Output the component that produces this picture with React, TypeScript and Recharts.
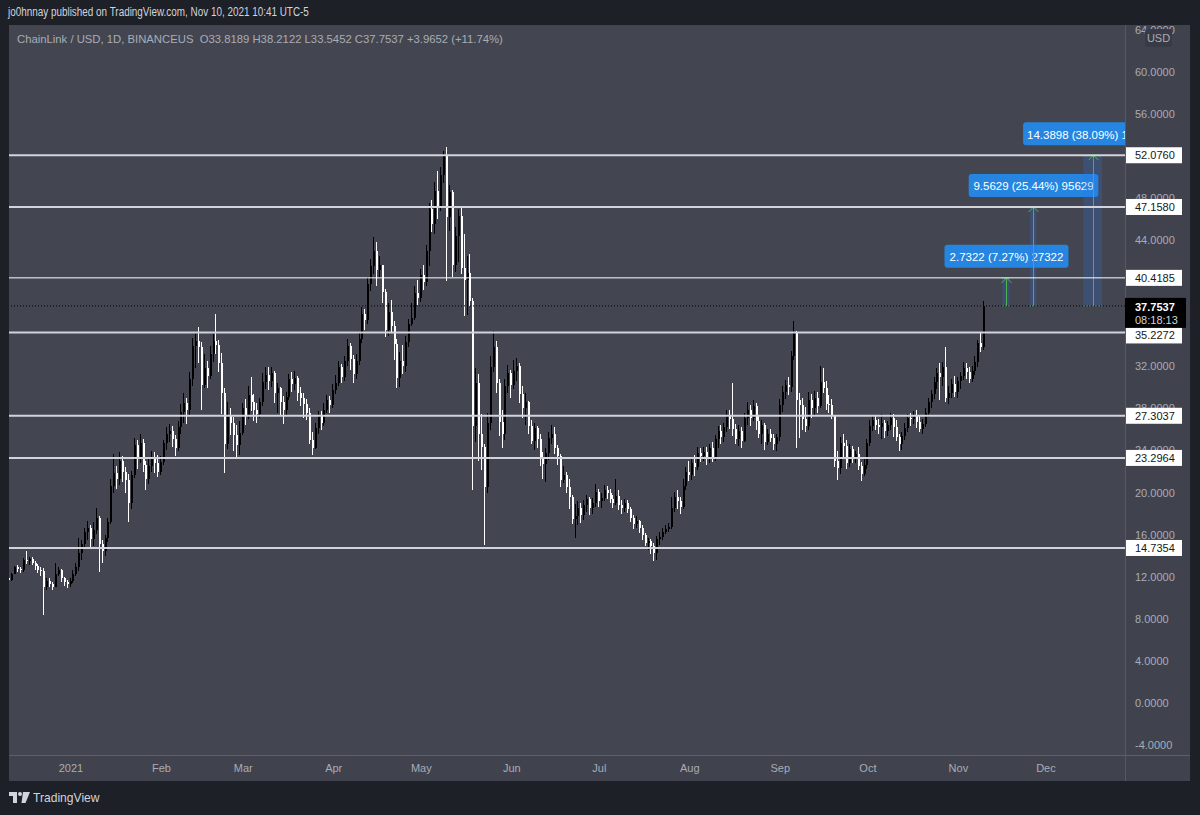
import React from 'react'
import { ComposedChart, Bar, XAxis, YAxis, ReferenceLine, ReferenceArea } from 'recharts'

const FONT = '"Liberation Sans", Arial, sans-serif'
const OUTER_BG = '#1e2027'
const PANEL_BG = '#434651'
const AXIS_BG = '#40434e'
const AXIS_TEXT = '#a9acb5'
const GREEN = '#4caf50'
const BLUE = '#2585e0'
const PLOT = { left: 9, top: 25, right: 1125, bottom: 755 }
const CHART_MARGIN = { top: 25, left: 9, right: 10, bottom: 34 }
const X_DOMAIN: [number, number] = [-21.24, 361.08]
const Y_DOMAIN: [number, number] = [-4.95, 64.46]

// days counted from Jan 1, 2021; first candle is Dec 11, 2020
const FIRST_DAY = -21
const FIRST_OPEN = 11.9

// daily closes, Dec 11 2020 .. Nov 10 2021
const CLOSES = [
  // Dec
  11.7, 12.3, 12.9, 12.7, 12.6, 13.6, 13.5, 13.7, 13.3, 13.0, 12.6, 12.5, 11.0, 11.6, 11.3, 11.0, 12.3, 12.6, 11.9, 11.5, 11.3,
  // Jan
  11.6, 12.3, 12.9, 14.3, 15.1, 16.3, 16.6, 15.6, 16.4, 17.6, 15.1, 14.4, 15.7, 17.2, 20.6, 21.9, 21.3, 23.0, 22.0, 21.2, 19.0,
  21.7, 24.5, 23.4, 24.7, 22.6, 21.3, 22.5, 23.4, 22.8, 22.0,
  // Feb
  22.9, 24.7, 25.6, 25.9, 25.1, 24.2, 26.2, 27.7, 28.5, 27.9, 30.8, 33.9, 34.4, 33.8, 30.2, 31.8, 31.1, 33.2, 34.4, 34.0, 32.3,
  29.5, 24.6, 27.4, 26.6, 25.5, 24.5, 25.7,
  // Mar
  28.0, 27.3, 29.3, 28.6, 27.9, 27.5, 28.6, 30.5, 31.2, 30.6, 31.4, 29.5, 29.9, 28.6, 27.9, 29.1, 30.8, 30.3, 30.9, 29.5, 29.0,
  28.4, 27.6, 25.0, 24.2, 26.1, 27.3, 26.6, 27.9, 28.8, 28.3,
  // Apr
  29.8, 30.4, 31.9, 31.0, 32.5, 33.9, 32.7, 31.3, 32.5, 34.6, 37.0, 36.4, 39.8, 41.5, 43.0, 41.2, 41.6, 39.1, 35.5, 37.2, 35.8,
  34.1, 30.9, 32.5, 32.0, 34.3, 36.0, 36.6, 39.0, 38.5,
  // May
  40.7, 40.0, 43.0, 47.0, 45.5, 48.7, 47.2, 50.2, 52.0, 46.2, 48.6, 41.6, 44.4, 46.3, 41.4, 40.2, 40.9, 38.2, 26.3, 30.4, 25.6,
  24.3, 20.5, 26.6, 31.9, 33.8, 30.4, 26.7, 25.6, 30.1, 31.4,
  // Jun
  30.2, 31.6, 32.0, 29.4, 28.0, 28.6, 26.3, 24.9, 26.1, 25.1, 23.4, 22.7, 23.8, 25.2, 25.6, 24.2, 23.5, 21.2, 21.7, 20.5, 19.6,
  17.5, 17.8, 18.5, 17.9, 18.8, 19.4, 18.5, 19.0, 20.1,
  // Jul
  19.2, 19.5, 20.2, 20.0, 19.4, 19.0, 19.7, 18.8, 18.5, 19.0, 18.4, 17.6, 17.0, 17.3, 16.6, 16.0, 15.2, 15.4, 14.9, 14.3, 15.6,
  15.8, 16.3, 16.5, 16.7, 18.5, 19.6, 19.2, 18.6, 20.6, 22.0,
  // Aug
  21.7, 22.8, 22.4, 23.8, 23.5, 23.9, 23.2, 24.2, 23.4, 25.1, 25.9, 25.3, 26.2, 27.4, 27.0, 26.0, 25.1, 25.9, 24.9, 27.1, 27.9,
  27.1, 28.2, 26.8, 25.6, 26.4, 24.8, 25.6, 25.2, 24.6, 25.3,
  // Sep
  28.3, 29.6, 30.2, 30.0, 33.0, 35.2, 28.8, 28.3, 27.0, 26.3, 28.8, 28.0, 29.0, 28.2, 30.5, 29.9, 28.4, 28.3, 27.4, 23.0, 22.3,
  24.7, 24.4, 22.8, 24.1, 23.3, 23.7, 22.5, 21.8, 22.6,
  // Oct
  24.7, 26.3, 26.9, 26.4, 26.2, 26.6, 25.9, 26.4, 27.1, 26.2, 25.3, 24.6, 25.4, 26.1, 27.1, 27.0, 27.4, 26.7, 26.0, 26.5, 27.6,
  28.6, 29.4, 30.5, 31.4, 31.0, 31.9, 29.0, 29.5, 30.3, 29.6,
  // Nov
  30.6, 31.1, 31.8, 31.5, 30.8, 31.6, 32.4, 34.2, 33.8189, 37.7537,
]

const HIGHS = [
  12.1, 12.4, 13.0, 13.1, 12.9, 13.8, 14.4, 13.9, 13.9, 13.5, 13.2, 12.9, 12.8, 11.9, 11.9, 11.5, 13.3, 12.9, 12.7, 12.0, 11.7,
  11.9, 12.6, 13.3, 15.7, 15.5, 16.6, 17.3, 16.9, 17.2, 18.5, 17.8, 15.5, 16.0, 17.6, 21.3, 23.7, 22.5, 23.9, 23.5, 22.4, 21.8,
  22.1, 25.2, 25.0, 25.6, 25.1, 23.0, 23.2, 24.0, 23.9, 23.6,
  23.5, 25.0, 26.2, 26.5, 26.3, 25.5, 26.8, 28.4, 29.5, 29.0, 31.5, 34.7, 35.2, 35.7, 34.3, 33.2, 32.5, 33.9, 35.1, 37.0, 34.5,
  33.3, 29.9, 28.6, 28.0, 27.2, 26.4, 26.8,
  28.5, 28.9, 30.1, 31.0, 29.4, 28.5, 29.0, 31.4, 31.9, 31.9, 31.9, 31.6, 30.4, 30.0, 29.2, 29.6, 31.3, 31.5, 31.6, 31.1, 30.0,
  29.5, 28.9, 28.0, 25.8, 26.6, 27.8, 27.8, 28.5, 29.3, 29.2,
  30.3, 31.2, 32.5, 32.2, 33.0, 34.6, 34.2, 33.1, 33.2, 35.2, 37.6, 37.5, 40.5, 42.2, 44.3, 43.8, 42.5, 41.2, 39.4, 38.0, 38.3,
  36.3, 34.6, 33.4, 34.0, 34.9, 36.5, 38.0, 39.6, 40.2,
  41.3, 41.6, 43.5, 47.5, 47.8, 49.5, 50.6, 51.0, 52.5, 52.9, 49.2, 48.8, 45.3, 47.0, 47.2, 44.6, 42.5, 42.7, 38.5, 31.8, 31.3,
  27.5, 24.6, 27.6, 33.0, 35.4, 34.4, 30.8, 27.9, 30.8, 32.1,
  31.7, 32.6, 32.8, 32.3, 30.1, 29.5, 28.7, 26.9, 26.6, 26.3, 25.6, 23.9, 24.2, 25.8, 26.4, 26.2, 24.5, 23.7, 22.5, 22.0, 21.3,
  19.8, 18.9, 19.2, 19.0, 19.3, 19.8, 19.6, 19.5, 20.8,
  20.3, 20.0, 20.7, 20.6, 20.3, 19.8, 21.3, 20.2, 19.3, 19.4, 19.3, 18.6, 17.9, 17.8, 17.4, 16.9, 16.2, 15.7, 15.6, 15.2, 15.9,
  16.3, 16.6, 16.9, 17.1, 19.6, 20.1, 20.2, 19.6, 21.3, 22.4,
  23.0, 23.3, 23.6, 24.3, 24.2, 24.3, 24.3, 24.6, 24.8, 25.5, 26.3, 26.4, 26.6, 27.9, 27.9, 30.4, 26.5, 26.4, 26.2, 27.6, 28.6,
  28.3, 28.8, 28.5, 27.4, 26.9, 26.6, 26.0, 26.0, 25.6, 25.6,
  28.9, 30.1, 30.7, 31.0, 33.5, 36.3, 35.4, 29.5, 29.0, 28.1, 29.6, 29.4, 29.7, 29.6, 32.0, 31.8, 30.6, 29.3, 28.9, 27.4, 24.0,
  25.3, 25.6, 25.0, 24.6, 24.4, 24.0, 24.3, 22.9, 23.4,
  25.1, 26.9, 27.4, 27.4, 27.0, 27.5, 26.9, 26.8, 27.6, 27.5, 26.9, 25.6, 25.8, 26.6, 27.5, 27.6, 27.8, 27.9, 27.3, 27.0, 28.0,
  29.0, 29.8, 31.0, 31.8, 32.3, 32.4, 33.8, 30.1, 30.8, 31.1,
  31.0, 31.5, 32.4, 32.3, 31.9, 32.0, 33.0, 34.5, 35.3, 38.2122,
]

const LOWS = [
  11.4, 11.6, 12.2, 12.4, 12.3, 12.5, 13.2, 13.1, 13.1, 12.6, 12.3, 12.0, 8.3, 10.8, 11.0, 10.7, 11.0, 12.0, 11.5, 11.1, 10.9,
  11.0, 11.4, 12.1, 12.6, 13.6, 14.6, 15.5, 14.8, 14.9, 16.0, 12.5, 13.3, 14.0, 15.3, 17.0, 20.0, 20.3, 20.8, 21.0, 19.9, 17.2,
  18.5, 21.4, 22.2, 22.8, 22.0, 20.2, 20.8, 22.0, 21.9, 21.5,
  21.7, 22.6, 24.0, 24.8, 24.3, 23.5, 23.9, 25.5, 26.6, 26.5, 27.4, 30.1, 31.9, 32.3, 27.8, 30.0, 29.9, 30.8, 32.4, 33.2, 31.5,
  27.5, 21.8, 24.1, 25.4, 24.0, 23.2, 23.6,
  25.5, 26.4, 27.0, 27.8, 26.8, 26.6, 27.1, 28.3, 29.8, 29.7, 30.0, 28.6, 27.5, 27.2, 26.5, 27.3, 28.8, 29.6, 29.8, 28.7, 28.2,
  27.1, 26.9, 24.6, 23.6, 24.1, 25.6, 26.0, 26.3, 27.6, 27.6,
  28.0, 29.4, 30.1, 30.4, 30.6, 32.0, 31.6, 30.4, 30.8, 32.2, 34.2, 35.5, 36.0, 39.2, 40.8, 39.6, 40.4, 38.0, 34.8, 34.9, 35.2,
  32.6, 29.9, 30.1, 31.2, 31.5, 33.8, 35.8, 36.4, 37.8,
  38.2, 39.2, 39.6, 41.5, 44.8, 44.6, 46.0, 46.8, 49.5, 40.2, 44.8, 40.5, 41.0, 42.0, 40.8, 36.8, 36.9, 37.8, 20.2, 24.8, 23.0,
  22.2, 15.0, 20.0, 26.0, 31.5, 29.5, 25.4, 24.3, 25.0, 29.4,
  29.0, 29.8, 30.6, 28.5, 27.1, 26.5, 25.6, 24.6, 24.0, 24.2, 22.6, 21.3, 21.0, 23.1, 24.6, 23.6, 22.6, 20.6, 20.9, 20.0, 18.4,
  17.0, 15.7, 16.9, 17.1, 17.4, 18.2, 17.9, 18.0, 18.6,
  18.6, 18.6, 19.2, 19.4, 19.0, 18.6, 18.8, 18.3, 18.0, 18.2, 18.1, 17.2, 16.6, 16.7, 16.2, 15.5, 15.0, 14.6, 14.2, 13.5, 13.6,
  15.1, 15.5, 16.0, 16.2, 16.6, 18.2, 18.4, 18.0, 18.4, 20.2,
  21.1, 21.2, 21.6, 22.1, 22.9, 23.0, 22.6, 22.8, 22.9, 23.0, 24.2, 24.6, 24.8, 25.8, 26.1, 25.4, 24.6, 24.4, 24.2, 24.8, 26.4,
  26.3, 26.8, 25.9, 25.2, 24.6, 24.0, 24.5, 24.8, 24.1, 24.0,
  24.9, 27.6, 28.9, 29.3, 29.6, 32.6, 24.3, 25.2, 26.0, 25.7, 26.0, 27.1, 27.3, 27.6, 28.0, 29.4, 27.8, 27.6, 27.0, 22.5, 21.2,
  21.8, 23.2, 22.2, 22.4, 22.8, 22.9, 22.1, 21.1, 21.6,
  22.2, 24.4, 25.9, 26.0, 25.6, 25.1, 25.2, 25.4, 26.0, 25.3, 24.9, 24.0, 24.1, 25.0, 25.8, 26.4, 26.6, 26.2, 25.8, 25.6, 26.2,
  27.2, 28.1, 28.9, 29.8, 28.8, 30.1, 28.6, 28.4, 29.0, 29.1,
  29.0, 29.9, 30.7, 30.8, 30.4, 30.5, 31.2, 31.9, 33.4, 33.5452,
]

// first day of each month (days from Jan 1, 2021) and its axis label
const MONTH_TICKS = [0, 31, 59, 90, 120, 151, 181, 212, 243, 273, 304, 334]
const MONTH_LABELS = ['2021', 'Feb', 'Mar', 'Apr', 'May', 'Jun', 'Jul', 'Aug', 'Sep', 'Oct', 'Nov', 'Dec']
const PRICE_TICKS = [-4, 0, 4, 8, 12, 16, 20, 24, 28, 32, 36, 40, 44, 48, 52, 56, 60, 64]

const LEVELS = [52.076, 47.158, 40.4185, 35.2272, 27.3037, 23.2964, 14.7354]
const LAST_PRICE = 37.7537
const LAST_TIMER = '08:18:13'

// price range measurements drawn from the last close up to a level
const MEASURE_FROM = [319.1, 328.5, 346.8]
const MEASURE_TO = [321.5, 330.7, 353.2]
const MEASURE_TARGET = [40.4185, 47.158, 52.076]
const MEASURE_TEXT = ['2.7322 (7.27%) 27322', '9.5629 (25.44%) 95629', '14.3898 (38.09%) 143898']

const HEADER_SYMBOL = 'ChainLink / USD, 1D, BINANCEUS'
const HEADER_OHLC = 'O33.8189 H38.2122 L33.5452 C37.7537 +3.9652 (+11.74%)'
const PUBLISHED = 'jo0hnnay published on TradingView.com, Nov 10, 2021 10:41 UTC-5'

const CANDLES = CLOSES.map((close, i) => {
  const open = i === 0 ? FIRST_OPEN : CLOSES[i - 1]
  const high = Math.max(HIGHS[i], open, close)
  const low = Math.min(LOWS[i], open, close)
  return { day: FIRST_DAY + i, open, close, high, low, range: [low, high] }
})

const Candle = (props: any) => {
  const { x, y, width, height, payload } = props
  if (payload == null) return null
  const top = Math.min(y, y + height)
  const h = Math.abs(height)
  const { open, close, high, low } = payload
  const span = high - low
  const py = (v: number) => (span > 0 ? top + ((high - v) / span) * h : top)
  const cx = Math.round(x + width / 2)
  const color = close >= open ? '#000000' : '#ffffff'
  const bodyTop = Math.round(py(Math.max(open, close)))
  const bodyBottom = Math.round(py(Math.min(open, close)))
  return (
    <g>
      <rect x={cx - 1} y={Math.round(top)} width={1} height={Math.max(1, Math.round(h))} fill={color} />
      <rect x={cx - 1} y={bodyTop} width={2} height={Math.max(1, bodyBottom - bodyTop)} fill={color} />
    </g>
  )
}

// price tags on the axis; the one right under the last-price tag is pushed down like TradingView does
const levelTag = (text: string, shift: number) =>
  function LevelTag(props: any) {
    const vb = props.viewBox
    if (!vb) return null
    const left = vb.x + vb.width + 1
    const cy = vb.y + shift
    return (
      <g>
        <rect x={left} y={cy - 8} width={56} height={16} fill="#ffffff" />
        <text x={left + 9} y={cy} dominantBaseline="central" fontSize={11} fill="#131722" fontFamily={FONT}>
          {text}
        </text>
      </g>
    )
  }

const lastTag = (props: any) => {
  const vb = props.viewBox
  if (!vb) return null
  const left = vb.x + vb.width
  return (
    <g>
      <rect x={left} y={vb.y - 8} width={61} height={30} fill="#000000" />
      <text x={left + 10} y={vb.y + 1} dominantBaseline="central" fontSize={11} fontWeight="bold" fill="#ffffff" fontFamily={FONT}>
        {LAST_PRICE.toFixed(4)}
      </text>
      <text x={left + 10} y={vb.y + 14} dominantBaseline="central" fontSize={11} fill="#d1d4dc" fontFamily={FONT}>
        {LAST_TIMER}
      </text>
    </g>
  )
}

const measureShape = (text: string, idx: number) =>
  function MeasureShape(props: any) {
    const { x, y, width, height } = props
    const top = Math.min(y, y + height)
    const bottom = Math.max(y, y + height)
    const cx = Math.round(x + width / 2) + 0.5
    const boxW = text.length * 5.6 + 12
    const boxH = 23
    const boxY = top - 10 - boxH
    const clipId = `measure-clip-${idx}`
    return (
      <g>
        <defs>
          <clipPath id={clipId}>
            <rect x={PLOT.left} y={PLOT.top} width={PLOT.right - PLOT.left} height={PLOT.bottom - PLOT.top} />
          </clipPath>
        </defs>
        <g clipPath={`url(#${clipId})`}>
          <rect x={x} y={top} width={width} height={bottom - top} fill="rgba(41,120,230,0.22)" />
          <line x1={x} x2={x + width} y1={bottom} y2={bottom} stroke={GREEN} strokeDasharray="1 1" />
          <line x1={x} x2={x + width} y1={top + 0.5} y2={top + 0.5} stroke={GREEN} strokeDasharray="1 1" />
          <line x1={cx} x2={cx} y1={bottom} y2={top} stroke={GREEN} />
          <polyline points={`${cx - 5},${top + 5} ${cx},${top} ${cx + 5},${top + 5}`} fill="none" stroke={GREEN} />
          <rect x={cx - boxW / 2} y={boxY} width={boxW} height={boxH} rx={3} fill={BLUE} />
          <text x={cx} y={boxY + boxH / 2 + 1} textAnchor="middle" dominantBaseline="central" fontSize={11.5} fill="#ffffff" fontFamily={FONT}>
            {text}
          </text>
        </g>
      </g>
    )
  }

export default function App(): React.JSX.Element {
  return (
    <div
      style={{
        position: 'absolute',
        left: 0,
        top: 0,
        width: 1200,
        height: 815,
        background: OUTER_BG,
        overflow: 'hidden',
        fontFamily: FONT,
      }}
    >
      {/* chart panel and axis panels */}
      <div style={{ position: 'absolute', left: 9, top: 25, width: 1181, height: 756, background: PANEL_BG }} />
      <div style={{ position: 'absolute', left: 1126, top: 25, width: 64, height: 756, background: AXIS_BG }} />
      <div style={{ position: 'absolute', left: 9, top: 756, width: 1181, height: 25, background: AXIS_BG }} />
      <div style={{ position: 'absolute', left: 1125, top: 25, width: 1, height: 756, background: '#565964' }} />
      <div style={{ position: 'absolute', left: 9, top: 755, width: 1181, height: 1, background: '#5d606b' }} />

      {/* candles, axes and measurements */}
      <div style={{ position: 'absolute', left: 0, top: 0 }}>
        <ComposedChart width={1200} height={815} data={CANDLES} margin={CHART_MARGIN}>
          <XAxis
            dataKey="day"
            type="number"
            domain={X_DOMAIN}
            allowDataOverflow
            ticks={MONTH_TICKS}
            interval={0}
            tickFormatter={(v: number) => MONTH_LABELS[MONTH_TICKS.indexOf(v)] ?? ''}
            axisLine={false}
            tickLine={false}
            tickSize={0}
            tickMargin={9}
            height={26}
            tick={{ fill: AXIS_TEXT, fontSize: 11, fontFamily: FONT }}
          />
          <YAxis
            orientation="right"
            type="number"
            domain={Y_DOMAIN}
            allowDataOverflow
            ticks={PRICE_TICKS}
            interval={0}
            tickFormatter={(v: number) => v.toFixed(4)}
            axisLine={false}
            tickLine={false}
            tickSize={0}
            tickMargin={10}
            width={65}
            tick={{ fill: AXIS_TEXT, fontSize: 11, fontFamily: FONT }}
          />
          {MEASURE_TEXT.map((text, i) => (
            <ReferenceArea
              key={text}
              x1={MEASURE_FROM[i]}
              x2={MEASURE_TO[i]}
              y1={LAST_PRICE}
              y2={MEASURE_TARGET[i]}
              shape={measureShape(text, i)}
            />
          ))}
          <Bar dataKey="range" barSize={2} shape={Candle} isAnimationActive={false} />
        </ComposedChart>
      </div>

      {/* horizontal levels and their price tags, drawn on top of the axis labels */}
      <div style={{ position: 'absolute', left: 0, top: 0, pointerEvents: 'none' }}>
        <ComposedChart width={1200} height={815} data={CANDLES} margin={CHART_MARGIN}>
          <XAxis dataKey="day" type="number" domain={X_DOMAIN} allowDataOverflow tick={false} axisLine={false} tickLine={false} height={26} />
          <YAxis
            orientation="right"
            type="number"
            domain={Y_DOMAIN}
            allowDataOverflow
            tick={false}
            axisLine={false}
            tickLine={false}
            width={65}
          />
          {LEVELS.map((v) => (
            <ReferenceLine
              key={v}
              y={v}
              stroke={v === 40.4185 ? '#ffffff' : '#d1d4dc'}
              strokeWidth={v === 40.4185 ? 1 : 2}
              label={levelTag(v.toFixed(4), v === 35.2272 ? 3 : 0)}
            />
          ))}
          <ReferenceLine y={LAST_PRICE} stroke="#000000" strokeDasharray="1 2" label={lastTag} />
        </ComposedChart>
      </div>

      {/* top bar */}
      <div style={{ position: 'absolute', left: 0, top: 0, width: 1200, height: 25, background: OUTER_BG }} />
      <div
        style={{
          position: 'absolute',
          left: 8,
          top: 5,
          fontSize: 12,
          color: '#d1d4dc',
          whiteSpace: 'nowrap',
          transform: 'scaleX(0.825)',
          transformOrigin: 'left top',
        }}
      >
        {PUBLISHED}
      </div>
      <div style={{ position: 'absolute', left: 17, top: 33, fontSize: 11.3, color: AXIS_TEXT, whiteSpace: 'pre' }}>
        {HEADER_SYMBOL + '  ' + HEADER_OHLC}
      </div>
      <div
        style={{
          position: 'absolute',
          left: 1145,
          top: 29,
          width: 27,
          height: 18,
          borderRadius: 3,
          background: '#383b46',
          color: AXIS_TEXT,
          fontSize: 11,
          lineHeight: '18px',
          textAlign: 'center',
        }}
      >
        USD
      </div>

      {/* footer */}
      <svg style={{ position: 'absolute', left: 9, top: 792 }} width={22} height={12}>
        <path d="M0 0 H8 V11 H4 V4 H0 Z" fill="#d1d4dc" />
        <circle cx={11} cy={2} r={2} fill="#d1d4dc" />
        <path d="M14 0 H21 L16.5 11 H12.5 Z" fill="#d1d4dc" />
      </svg>
      <div
        style={{
          position: 'absolute',
          left: 33,
          top: 790,
          fontSize: 13,
          color: '#d1d4dc',
          transform: 'scaleX(0.93)',
          transformOrigin: 'left top',
        }}
      >
        TradingView
      </div>
    </div>
  )
}
